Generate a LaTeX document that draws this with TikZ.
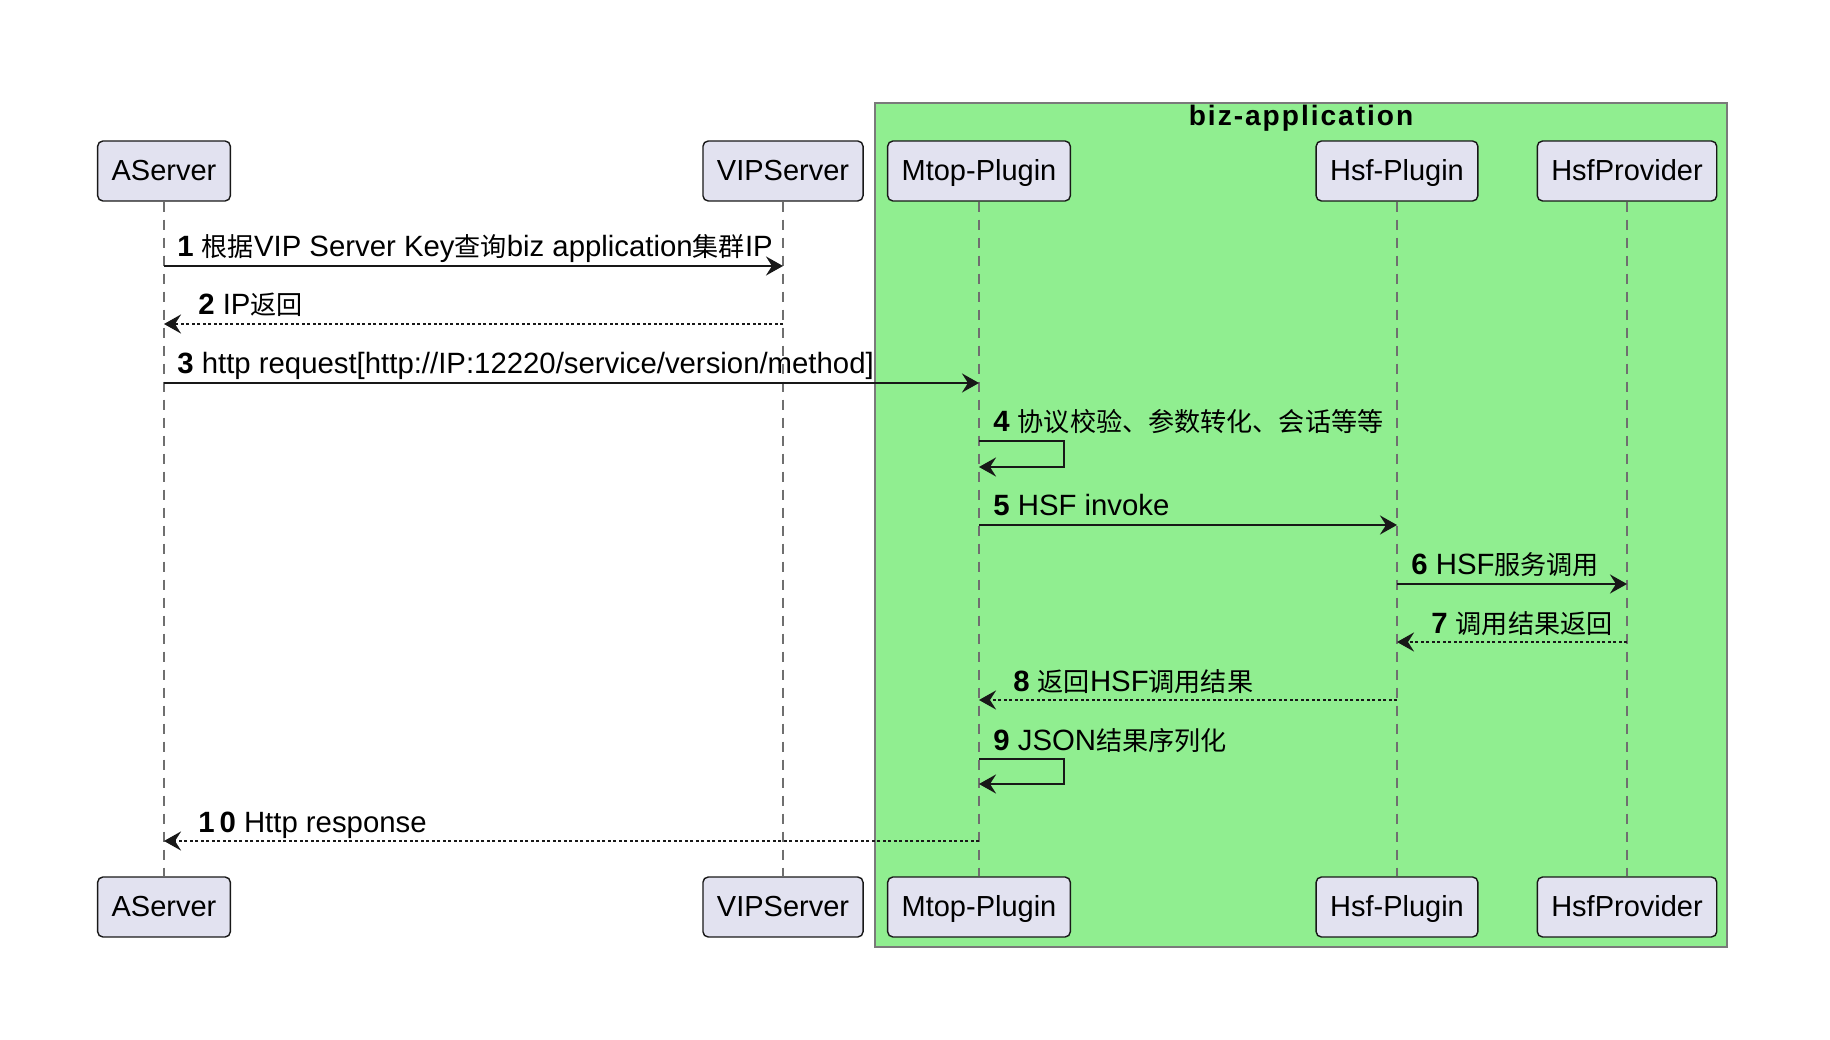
\documentclass[tikz,border=0pt]{standalone}
\usepackage{fontspec}
\setmainfont{Liberation Sans}
\newfontfamily\cjk[Scale=0.89]{Noto Sans CJK SC}
\usepackage{tikz}
\usetikzlibrary{arrows.meta}
\definecolor{partfill}{HTML}{E2E2F0}
\definecolor{partline}{HTML}{181818}
\definecolor{groupfill}{HTML}{90EE90}
\definecolor{groupline}{HTML}{7A7A7A}
\definecolor{lifegray}{HTML}{6F6F6F}

\begin{document}
\begin{tikzpicture}[x=0.02cm, y=-0.02cm,
    participant/.style={draw=partline, fill=partfill, line width=0.8pt, rounded corners=3pt,
        minimum height=1.2cm, inner xsep=0.28cm, text height=14.6pt, text depth=3.5pt,
        font=\fontsize{16.5}{20}\selectfont},
    life/.style={draw=lifegray, line width=0.7pt, dash pattern=on 0.2cm off 0.16cm},
    msg/.style={draw=partline, line width=1.4pt, -{Stealth[length=0.34cm, width=0.38cm, inset=0.12cm]}},
    reply/.style={msg, dash pattern=on 0.06cm off 0.05cm},
    lbl/.style={anchor=base west, inner sep=0pt, font=\fontsize{16.7}{20}\selectfont}]
    \useasboundingbox (0,0) rectangle (1830,1040);
    \draw[groupline, fill=groupfill, line width=1pt] (875,103) rectangle (1727,947);
    \node[font=\fontsize{16}{19}\selectfont\bfseries\addfontfeature{LetterSpace=7}] (grp) at (1301,118) {biz-application};

    \node[participant] (as-top)   at (164,171)  {AServer};
    \node[participant] (vip-top)  at (783,171)  {VIPServer};
    \node[participant] (mtop-top) at (979,171)  {Mtop-Plugin};
    \node[participant] (hsf-top)  at (1397,171) {Hsf-Plugin};
    \node[participant] (prov-top) at (1627,171) {HsfProvider};
    \node[participant] (as-bot)   at (164,907)  {AServer};
    \node[participant] (vip-bot)  at (783,907)  {VIPServer};
    \node[participant] (mtop-bot) at (979,907)  {Mtop-Plugin};
    \node[participant] (hsf-bot)  at (1397,907) {Hsf-Plugin};
    \node[participant] (prov-bot) at (1627,907) {HsfProvider};

    \draw[life] (as-top) -- (as-bot);
    \draw[life] (vip-top) -- (vip-bot);
    \draw[life] (mtop-top) -- (mtop-bot);
    \draw[life] (hsf-top) -- (hsf-bot);
    \draw[life] (prov-top) -- (prov-bot);

    \coordinate (r1) at (0,266);
    \coordinate (r2) at (0,324);
    \coordinate (r3) at (0,383);
    \coordinate (r4) at (0,441);
    \coordinate (r4b) at (0,467);
    \coordinate (r5) at (0,525);
    \coordinate (r6) at (0,584);
    \coordinate (r7) at (0,642);
    \coordinate (r8) at (0,700);
    \coordinate (r9) at (0,759);
    \coordinate (r9b) at (0,784);
    \coordinate (r10) at (0,841);

    \draw[msg] (as-top |- r1) -- (vip-top |- r1);
    \node[lbl] (m1) at (177,257) {\textbf{1} {\cjk 根据}VIP Server Key{\cjk 查询}biz application{\cjk 集群}IP};
    \draw[reply] (vip-top |- r2) -- (as-top |- r2);
    \node[lbl] (m2) at (198,315) {\textbf{2} IP{\cjk 返回}};
    \draw[msg] (as-top |- r3) -- (mtop-top |- r3);
    \node[lbl] (m3) at (177,374) {\textbf{3} http request[http://IP:12220/service/version/method]};
    \draw[msg] (mtop-top |- r4) -- ++(85,0) |- (mtop-top |- r4b);
    \node[lbl] (m4) at (993,432) {\textbf{4} {\cjk 协议校验、参数转化、会话等等}};
    \draw[msg] (mtop-top |- r5) -- (hsf-top |- r5);
    \node[lbl] (m5) at (993,516) {\textbf{5} HSF invoke};
    \draw[msg] (hsf-top |- r6) -- (prov-top |- r6);
    \node[lbl] (m6) at (1411,575) {\textbf{6} HSF{\cjk 服务调用}};
    \draw[reply] (prov-top |- r7) -- (hsf-top |- r7);
    \node[lbl] (m7) at (1431,633) {\textbf{7} {\cjk 调用结果返回}};
    \draw[reply] (hsf-top |- r8) -- (mtop-top |- r8);
    \node[lbl] (m8) at (1013,691) {\textbf{8} {\cjk 返回}HSF{\cjk 调用结果}};
    \draw[msg] (mtop-top |- r9) -- ++(85,0) |- (mtop-top |- r9b);
    \node[lbl] (m9) at (993,750) {\textbf{9} JSON{\cjk 结果序列化}};
    \draw[reply] (mtop-top |- r10) -- (as-top |- r10);
    \node[lbl] (m10) at (198,832) {\textbf{1\,0} Http response};
\end{tikzpicture}
\end{document}
